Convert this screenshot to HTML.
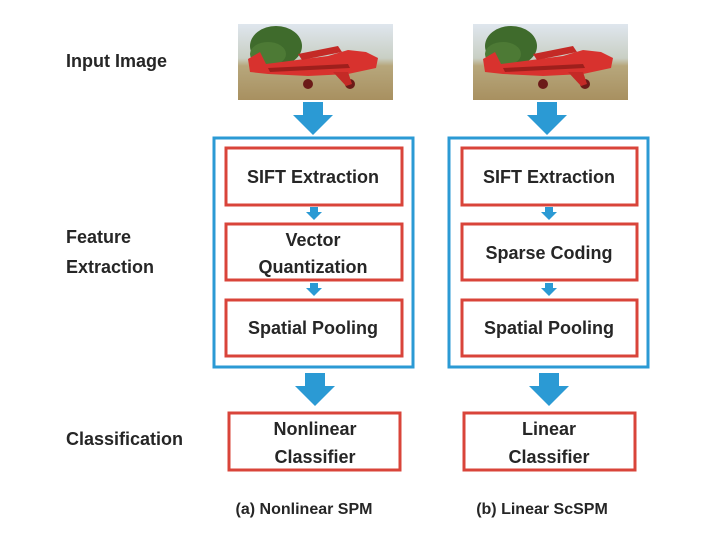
<!DOCTYPE html>
<html><head><meta charset="utf-8"><style>
html,body{margin:0;padding:0;background:#fff;}
svg{display:block;}
text{font-family:"Liberation Sans",sans-serif;font-weight:bold;fill:#262626;}
</style></head><body>
<svg width="720" height="543" viewBox="0 0 720 543" xmlns="http://www.w3.org/2000/svg">
<defs>
<linearGradient id="bg" x1="0" y1="0" x2="0" y2="1">
<stop offset="0" stop-color="#dfe6ee"/><stop offset="0.45" stop-color="#c9cfc4"/><stop offset="0.55" stop-color="#b7a77c"/><stop offset="1" stop-color="#a89060"/>
</linearGradient>
<g id="plane">
<rect x="0" y="0" width="155" height="76" fill="url(#bg)"/>
<ellipse cx="38" cy="22" rx="26" ry="20" fill="#3f6b2c"/>
<ellipse cx="30" cy="30" rx="18" ry="12" fill="#4d7a35"/>
<path d="M10 35 L22 28 L28 40 L90 32 L110 26 L128 28 L140 34 L138 44 L110 50 L70 52 L30 50 L12 48 Z" fill="#d8322e"/>
<path d="M60 30 L100 22 L104 28 L64 36 Z" fill="#c42a26"/>
<path d="M30 44 L110 40 L112 44 L32 48 Z" fill="#9e1f1c"/>
<circle cx="70" cy="60" r="5" fill="#6b1a18"/><circle cx="112" cy="60" r="5" fill="#6b1a18"/>
<path d="M95 48 L110 48 L114 60 L108 62 Z" fill="#c42a26"/>
</g>
<g id="big"><rect x="-10" y="0" width="20" height="15" fill="#2b9ad4"/><path d="M-20 13 L20 13 L0 33 Z" fill="#2b9ad4"/></g>
<g id="sm"><rect x="-4" y="0" width="8" height="6" fill="#2b9ad4"/><path d="M-8 5 L8 5 L0 13 Z" fill="#2b9ad4"/></g>
</defs>

<text x="66" y="67" font-size="18">Input Image</text>
<text x="66" y="243" font-size="18">Feature</text>
<text x="66" y="273" font-size="18">Extraction</text>
<text x="66" y="445" font-size="18">Classification</text>

<use href="#plane" x="238" y="24"/>
<use href="#plane" x="473" y="24"/>

<use href="#big" x="313" y="102"/>
<use href="#big" x="547" y="102"/>

<rect x="214" y="138" width="199" height="229" fill="none" stroke="#2b9ad4" stroke-width="3"/>
<rect x="449" y="138" width="199" height="229" fill="none" stroke="#2b9ad4" stroke-width="3"/>

<g fill="#fff" stroke="#d9443a" stroke-width="3">
<rect x="226" y="148" width="176" height="57"/>
<rect x="226" y="224" width="176" height="56"/>
<rect x="226" y="300" width="176" height="56"/>
<rect x="229" y="413" width="171" height="57"/>
<rect x="462" y="148" width="175" height="57"/>
<rect x="462" y="224" width="175" height="56"/>
<rect x="462" y="300" width="175" height="56"/>
<rect x="464" y="413" width="171" height="57"/>
</g>

<use href="#sm" x="314" y="207"/>
<use href="#sm" x="314" y="283"/>
<use href="#sm" x="549" y="207"/>
<use href="#sm" x="549" y="283"/>

<use href="#big" x="315" y="373"/>
<use href="#big" x="549" y="373"/>

<g font-size="18" text-anchor="middle">
<text x="313" y="183">SIFT Extraction</text>
<text x="313" y="246">Vector</text>
<text x="313" y="273">Quantization</text>
<text x="313" y="334">Spatial Pooling</text>
<text x="315" y="435">Nonlinear</text>
<text x="315" y="463">Classifier</text>
<text x="549" y="183">SIFT Extraction</text>
<text x="549" y="259">Sparse Coding</text>
<text x="549" y="334">Spatial Pooling</text>
<text x="549" y="435">Linear</text>
<text x="549" y="463">Classifier</text>
<text x="304" y="514" font-size="16">(a) Nonlinear SPM</text>
<text x="542" y="514" font-size="16">(b) Linear ScSPM</text>
</g>
</svg>
</body></html>
